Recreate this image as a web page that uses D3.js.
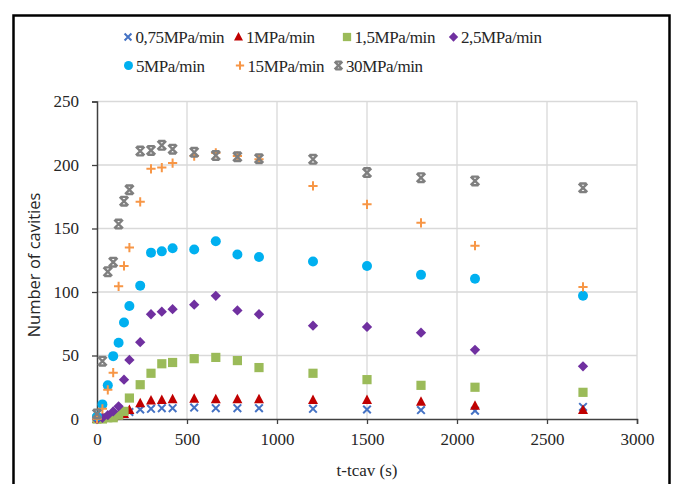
<!DOCTYPE html>
<html>
<head>
<meta charset="utf-8">
<script src="https://cdn.jsdelivr.net/npm/d3@7"></script>
<style>
  body { margin: 0; background: #fff; }
</style>
</head>
<body>
<div id="chart"></div>
<script>
// time after cavitation onset (s)
var times = [0, 30, 60, 90, 120, 150, 180, 240, 300, 360, 420, 540, 660, 780, 900, 1200, 1500, 1800, 2100, 2700];

// number of cavities per loading rate
var rate075 = [0, 1, 1, 2, 3, 4, 5.5, 7.5, 8, 8.5, 8.5, 9, 8.5, 8.5, 8.5, 8, 7.5, 7, 6.5, 9.5];
var rate1 = [0, 0, 1, 2, 3, 4, 7, 12.5, 14.5, 15, 15.5, 16, 15.5, 15.5, 15.5, 15, 15, 13.5, 10.5, 7];
var rate15 = [0, 0, 1, 1, 3, 6, 16.5, 27, 36, 43.5, 44.5, 47.5, 48.5, 46, 40.5, 36, 31, 26.5, 25, 21];
var rate25 = [0, 1, 3, 6, 10, 31, 46.5, 60.5, 82.5, 84.5, 86.5, 90, 97, 85.5, 82.5, 73.5, 72.5, 68, 54.5, 41.5];
var rate5 = [2, 11.5, 26.5, 49.5, 60, 76, 89, 105, 131, 132, 134.5, 133.5, 140, 129.5, 127.5, 124, 120.5, 113.5, 110.5, 97];
var rate15M = [0, 8, 23, 36.5, 104.5, 120.5, 135, 171, 197, 198, 201.5, 207, 209.5, 207, 204.5, 183.5, 169, 154.5, 136.5, 104];
var rate30 = [4, 45.5, 116, 123.5, 153.5, 171.5, 180.5, 211, 211.5, 215.5, 212.5, 210, 207.5, 206.5, 205, 204.5, 194, 190, 187.5, 182];

var seriesNames = ['0,75MPa/min', '1MPa/min', '1,5MPa/min', '2,5MPa/min', '5MPa/min', '15MPa/min', '30MPa/min'];
var xTicks = [0, 500, 1000, 1500, 2000, 2500, 3000];
var yTicks = [0, 50, 100, 150, 200, 250];

var serif = '"Liberation Serif", "Times New Roman", Times, serif';
var sans = '"Open Sans", "Noto Sans", sans-serif';

var width = 673, height = 484;
var margin = {left: 97, top: 101.5, right: 36, bottom: 65};
var chartWidth = width - margin.left - margin.right;
var chartHeight = height - margin.top - margin.bottom;

var svg = d3.select('#chart').append('svg')
    .attr('width', width)
    .attr('height', height);

// outer frame
svg.append('rect')
    .attr('x', 13.5).attr('y', 15.5)
    .attr('width', 656).attr('height', 490)
    .attr('fill', 'none')
    .attr('stroke', '#000')
    .attr('stroke-width', 2.5);

var xScale = d3.scaleLinear().domain([0, 3000]).range([0, chartWidth]);
var yScale = d3.scaleLinear().domain([0, 250]).range([chartHeight, 0]);

var g = svg.append('g')
    .attr('transform', 'translate(' + margin.left + ',' + margin.top + ')');

// gridlines
g.append('g').selectAll('line').data(xTicks.slice(1)).enter().append('line')
    .attr('x1', d => xScale(d)).attr('x2', d => xScale(d))
    .attr('y1', 0).attr('y2', chartHeight)
    .attr('stroke', '#d9d9d9').attr('stroke-width', 1.3);
g.append('g').selectAll('line').data(yTicks.slice(1)).enter().append('line')
    .attr('x1', 0).attr('x2', chartWidth)
    .attr('y1', d => yScale(d)).attr('y2', d => yScale(d))
    .attr('stroke', '#d9d9d9').attr('stroke-width', 1.3);

// axes
var xAxis = d3.axisBottom(xScale).tickValues(xTicks).tickSize(5).tickPadding(9).tickFormat(d3.format('d'));
var yAxis = d3.axisLeft(yScale).tickValues(yTicks).tickSize(5).tickPadding(13).tickFormat(d3.format('d'));

var xAxisG = g.append('g')
    .attr('transform', 'translate(0,' + chartHeight + ')')
    .call(xAxis);
var yAxisG = g.append('g').call(yAxis);

[xAxisG, yAxisG].forEach(function(a) {
    a.attr('font-family', serif).attr('font-size', 17);
    a.select('.domain').attr('stroke', '#404040').attr('stroke-width', 1.5);
    a.selectAll('.tick line').attr('stroke', '#404040').attr('stroke-width', 1.3);
    a.selectAll('.tick text').attr('fill', '#262626');
});

// axis titles
svg.append('text')
    .attr('x', 367).attr('y', 476)
    .attr('text-anchor', 'middle')
    .attr('font-family', serif)
    .attr('font-size', 17)
    .attr('fill', '#262626')
    .text('t-tcav (s)');

svg.append('text')
    .attr('transform', 'translate(40,265) rotate(-90)')
    .attr('text-anchor', 'middle')
    .attr('font-family', sans)
    .attr('font-size', 16.5)
    .attr('fill', '#262626')
    .text('Number of cavities');

// marker shapes
function markerPath(type, s) {
    switch (type) {
        case 'x': return 'M' + (-s) + ',' + (-s) + 'L' + s + ',' + s + 'M' + (-s) + ',' + s + 'L' + s + ',' + (-s);
        case 'plus': return 'M' + (-s) + ',0L' + s + ',0M0,' + (-s) + 'L0,' + s;
        case 'star': return 'M' + (-s) + ',' + (-s) + 'L' + s + ',' + s + 'M' + (-s) + ',' + s + 'L' + s + ',' + (-s) +
            'M' + (-s * 0.8) + ',' + (-s) + 'L' + (s * 0.8) + ',' + (-s) + 'M' + (-s * 0.8) + ',' + s + 'L' + (s * 0.8) + ',' + s;
        case 'triangle': return 'M0,' + (-s * 1.1) + 'L' + s + ',' + (s * 0.8) + 'L' + (-s) + ',' + (s * 0.8) + 'Z';
        case 'square': return 'M' + (-s) + ',' + (-s) + 'H' + s + 'V' + s + 'H' + (-s) + 'Z';
        case 'diamond': return 'M0,' + (-s * 1.2) + 'L' + (s * 1.2) + ',0L0,' + (s * 1.2) + 'L' + (-s * 1.2) + ',0Z';
        case 'circle': return 'M' + s + ',0A' + s + ',' + s + ' 0 1,1 ' + (-s) + ',0A' + s + ',' + s + ' 0 1,1 ' + s + ',0Z';
    }
}

var series = [
    {name: seriesNames[0], values: rate075, type: 'x', color: '#4472c4', size: 3.8, stroke: true, sw: 2},
    {name: seriesNames[1], values: rate1, type: 'triangle', color: '#c00000', size: 5},
    {name: seriesNames[2], values: rate15, type: 'square', color: '#9bbb59', size: 4.6},
    {name: seriesNames[3], values: rate25, type: 'diamond', color: '#7030a0', size: 4.3},
    {name: seriesNames[4], values: rate5, type: 'circle', color: '#00b0f0', size: 5},
    {name: seriesNames[5], values: rate15M, type: 'plus', color: '#f79646', size: 4.6, stroke: true, sw: 2},
    {name: seriesNames[6], values: rate30, type: 'star', color: '#7f7f7f', size: 4.3, stroke: true, sw: 2.4}
];

function styleMarker(sel, s) {
    if (s.stroke) {
        sel.attr('fill', 'none').attr('stroke', s.color).attr('stroke-width', s.sw);
    } else {
        sel.attr('fill', s.color).attr('stroke', 'none');
    }
}

// points
series.forEach(function(s) {
    var pts = g.append('g').selectAll('path')
        .data(times.map((t, i) => ({t: t, v: s.values[i]})))
        .enter().append('path')
        .attr('d', markerPath(s.type, s.size))
        .attr('transform', d => 'translate(' + xScale(d.t) + ',' + yScale(d.v) + ')');
    styleMarker(pts, s);
});

// legend
var legendPos = [
    {x: 128, y: 37}, {x: 238.5, y: 37}, {x: 347, y: 37}, {x: 453.5, y: 37},
    {x: 128.5, y: 65.5}, {x: 240, y: 65.5}, {x: 338.5, y: 65.5}
];
series.forEach(function(s, i) {
    var lg = svg.append('g')
        .attr('transform', 'translate(' + legendPos[i].x + ',' + legendPos[i].y + ')');
    styleMarker(lg.append('path').attr('d', markerPath(s.type, s.size * 0.9)), s);
    lg.append('text')
        .attr('x', 7.5).attr('y', 6)
        .attr('font-family', serif)
        .attr('font-size', 17)
        .attr('letter-spacing', '-0.4')
        .attr('fill', '#262626')
        .text(s.name);
});
</script>
</body>
</html>
